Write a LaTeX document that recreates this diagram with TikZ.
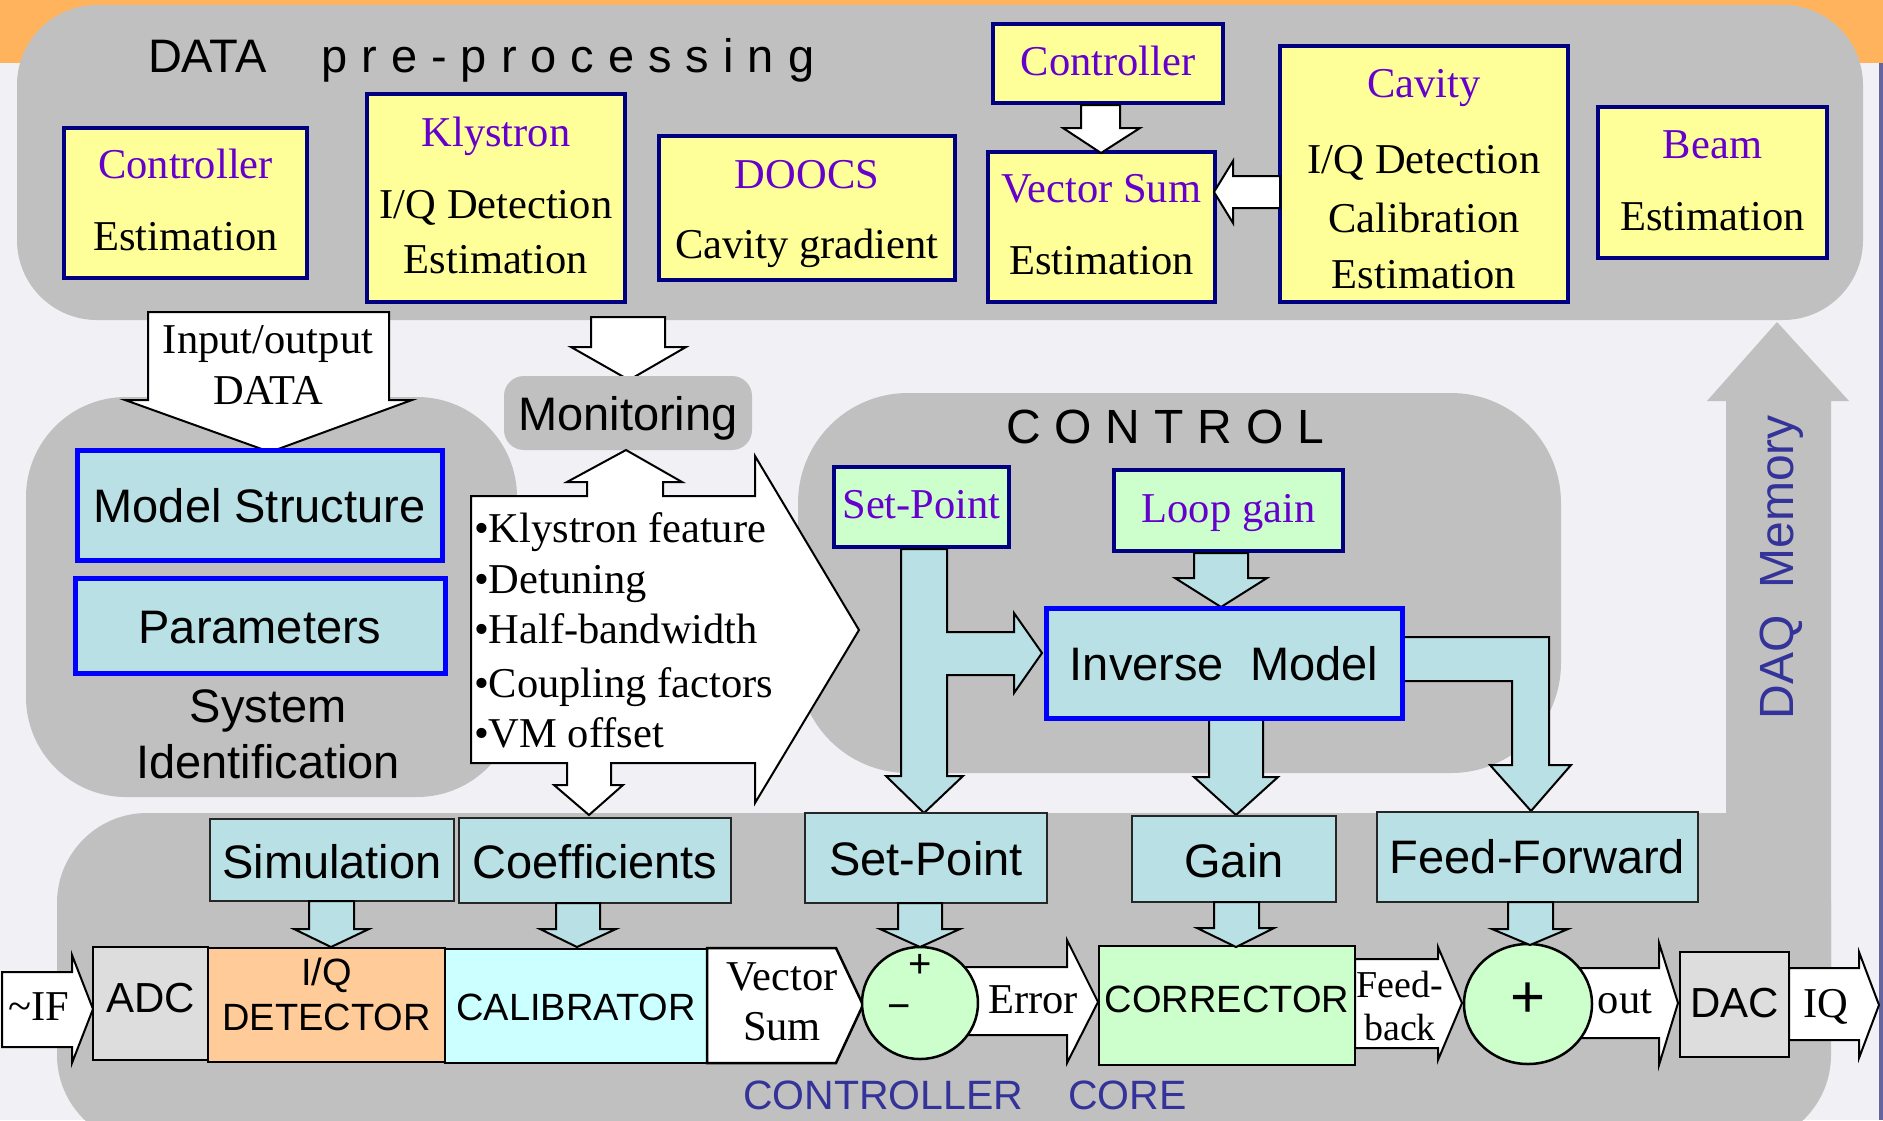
\documentclass[tikz,border=0pt]{standalone}
\usepackage{fontspec}
\usetikzlibrary{shapes.geometric}
\setmainfont{Liberation Serif}
\newfontfamily\fsans{Liberation Sans}
\newcommand\fsz[2]{\fontsize{#1}{#2}\selectfont}
\newcommand\ls{\kern14pt}
\definecolor{bgc}{RGB}{240,240,245}
\definecolor{orng}{RGB}{255,179,92}
\definecolor{grayreg}{RGB}{192,192,192}
\definecolor{yel}{RGB}{255,255,153}
\definecolor{navyb}{RGB}{0,0,128}
\definecolor{purp}{RGB}{102,0,204}
\definecolor{cyanl}{RGB}{185,224,228}
\definecolor{grn}{RGB}{204,255,204}
\definecolor{blueb}{RGB}{0,0,255}
\definecolor{daqblue}{RGB}{51,51,153}
\definecolor{adcg}{RGB}{221,221,221}
\definecolor{peach}{RGB}{255,204,153}
\definecolor{calc}{RGB}{204,255,255}
\definecolor{edgep}{RGB}{100,100,160}
\begin{document}
\begin{tikzpicture}[x=1pt,y=-1pt,
  every node/.style={inner sep=0pt, outer sep=0pt},
  yb/.style={draw=navyb, line width=4pt, fill=yel},
  gb/.style={draw=navyb, line width=3.5pt, fill=grn},
  bb/.style={draw=blueb, line width=5pt, fill=cyanl},
  cb/.style={draw=black!85, line width=2pt, fill=cyanl},
  pb/.style={draw=black, line width=2.5pt},
  warrow/.style={draw=black, line width=2pt, fill=white, line join=miter},
  carrow/.style={draw=black, line width=2pt, fill=cyanl, line join=miter},
  pt/.style={text=purp, font=\fsz{42.5}{50}, anchor=base},
  bt/.style={text=black, font=\fsz{42.5}{50}, anchor=base},
  st/.style={text=black, font=\fsans\fsz{47}{56}, anchor=base},
  sst/.style={text=black, font=\fsans\fsz{38}{46}, anchor=base},
  btl/.style={text=black, font=\fsz{42.5}{50}, anchor=base west},
]
\useasboundingbox (0,0) rectangle (1883,1120);
\clip (0,0) rectangle (1883,1120);
% background
\fill[bgc] (0,0) rectangle (1883,1120);
\fill[orng] (0,0) rectangle (1883,63);
\fill[edgep] (1879,63) rectangle (1883,1120);
% regions
\fill[grayreg, rounded corners=80pt] (17,5) rectangle (1863,320);
\fill[grayreg, rounded corners=100pt] (26,397) rectangle (517,797);
\fill[grayreg, rounded corners=110pt] (798,393) rectangle (1561,773);
\fill[grayreg, rounded corners=90pt] (57,813) rectangle (1831,1145);
\fill[grayreg] (1726,1000) -- (1726,401) -- (1707,401) -- (1777,322) -- (1849,401) -- (1831,401) -- (1831,1000) -- cycle;
\node[text=daqblue, font=\fsans\fsz{48}{58}, rotate=90, anchor=base] (daq) at (1793,567) {DAQ\ \ Memory};

% ===== DATA pre-processing =====
\node[anchor=base west, font=\fsans\fsz{47}{56}] (dpp) at (148,72) {DATA\kern55pt p\ls r\ls e\ls -\ls p\ls r\ls o\ls c\ls e\ls s\ls s\ls i\ls n\ls g};

\node[yb, minimum width=243pt, minimum height=150pt] (ctrlest) at (185.5,203) {};
\node[pt] at (185.5,178) {Controller};
\node[bt] at (185.5,250) {Estimation};

\node[yb, minimum width=258pt, minimum height=208pt] (klys) at (496,198) {};
\node[pt] at (496,146) {Klystron};
\node[bt] at (496,218) {I/Q Detection};
\node[bt] at (496,273) {Estimation};

\node[yb, minimum width=296pt, minimum height=144pt] (doocs) at (807,208) {};
\node[pt] at (807,188) {DOOCS};
\node[bt] at (807,258) {Cavity gradient};

\node[yb, minimum width=230pt, minimum height=79pt] (ctrltop) at (1108,63.5) {};
\node[pt] at (1108,75) {Controller};

\node[yb, minimum width=227pt, minimum height=150pt] (vsest) at (1101.5,227) {};
\node[pt] at (1101.5,202) {Vector Sum};
\node[bt] at (1101.5,274) {Estimation};

\node[yb, minimum width=288pt, minimum height=256pt] (cavity) at (1424,174) {};
\node[pt] at (1424,97) {Cavity};
\node[bt] at (1424,173) {I/Q Detection};
\node[bt] at (1424,232) {Calibration};
\node[bt] at (1424,288) {Estimation};

\node[yb, minimum width=229pt, minimum height=151pt] (beam) at (1712.5,182.5) {};
\node[pt] at (1712.5,158) {Beam};
\node[bt] at (1712.5,230) {Estimation};

% arrows in top region
\draw[warrow] (1081,105) -- (1120,105) -- (1120,128) -- (1140,128) -- (1101,153) -- (1063,128) -- (1081,128) -- cycle;
\draw[warrow] (1280,176) -- (1233,176) -- (1233,161) -- (1214,192) -- (1233,223) -- (1233,208) -- (1280,208) -- cycle;

% ===== System identification =====
\draw[warrow] (148,312) -- (389,312) -- (389,400) -- (412,400) -- (270,452) -- (125,400) -- (148,400) -- cycle;
\node[bt] at (268,353) {Input/output};
\node[bt] at (268,404) {DATA};

\node[bb, minimum width=365pt, minimum height=110pt] (modelstr) at (259.5,505) {};
\node[st] at (259.5,522) {Model Structure};
\node[bb, minimum width=370pt, minimum height=95pt] (params) at (260,625.5) {};
\node[st] at (260,643) {Parameters};
\node[st] at (268,722) {System};
\node[st] at (268,778) {Identification};

% ===== Monitoring =====
\draw[warrow] (591,317) -- (665,317) -- (665,347) -- (686,347) -- (629,380) -- (571,347) -- (591,347) -- cycle;
\node[fill=grayreg, rounded corners=20pt, minimum width=248pt, minimum height=74pt] (monit) at (628,413) {};
\node[st] at (628,430) {Monitoring};

\draw[warrow] (471,496) -- (587,496) -- (587,482) -- (567,482) -- (626,450) -- (682,482) -- (663,482) -- (663,496) -- (755,496) -- (755,456) -- (859,630) -- (755,803) -- (755,763) -- (611,763) -- (611,785) -- (623,785) -- (589,815) -- (554,785) -- (567,785) -- (567,763) -- (471,763) -- cycle;
\node[btl] at (474,542) {\textbullet Klystron feature};
\node[btl] at (474,593) {\textbullet Detuning};
\node[btl] at (474,643) {\textbullet Half-bandwidth};
\node[btl] at (474,697) {\textbullet Coupling factors};
\node[btl] at (474,747) {\textbullet VM offset};

% ===== CONTROL =====
\node[anchor=base west, font=\fsans\fsz{48}{56}] (ctl) at (1006,443) {C\ls O\ls N\ls T\ls R\ls O\ls L};
\node[gb, minimum width=175pt, minimum height=80pt] (sptop) at (921.5,507) {};
\node[pt] at (921.5,518) {Set-Point};
\node[gb, minimum width=229pt, minimum height=81pt] (loopgain) at (1228.5,510.5) {};
\node[pt] at (1228.5,522) {Loop gain};

\draw[carrow] (1194,553) -- (1248,553) -- (1248,578) -- (1267,578) -- (1221,607) -- (1175,578) -- (1194,578) -- cycle;
\draw[carrow] (901,549) -- (947,549) -- (947,632) -- (1014,632) -- (1014,613) -- (1042,653) -- (1014,693) -- (1014,675) -- (947,675) -- (947,776) -- (963,776) -- (924,813) -- (886,776) -- (901,776) -- cycle;
\draw[carrow] (1209,716) -- (1263,716) -- (1263,777) -- (1278,777) -- (1236,815) -- (1194,777) -- (1209,777) -- cycle;
\draw[carrow] (1400,637) -- (1549,637) -- (1549,765) -- (1571,765) -- (1531,811) -- (1490,765) -- (1512,765) -- (1512,681) -- (1400,681) -- cycle;

\node[bb, minimum width=356pt, minimum height=110pt] (invmodel) at (1224,663) {};
\node[st] at (1224,680) {Inverse\ \ Model};

% ===== Controller core row =====
\node[cb, minimum width=244pt, minimum height=82pt] (sim) at (332,860) {};
\node[st] at (332,878) {Simulation};
\node[cb, minimum width=272pt, minimum height=85pt] (coef) at (595,860.5) {};
\node[st] at (595,878) {Coefficients};
\node[cb, minimum width=242pt, minimum height=90pt] (spbot) at (926,858) {};
\node[st] at (926,875) {Set-Point};
\node[cb, minimum width=204pt, minimum height=86pt] (gain) at (1234,859) {};
\node[st] at (1234,877) {Gain};
\node[cb, minimum width=321pt, minimum height=90pt] (ff) at (1537.5,857) {};
\node[st] at (1537.5,873) {Feed-Forward};

% pipeline
\draw[warrow] (2,972) -- (72,972) -- (72,955) -- (93,1009) -- (72,1063) -- (72,1047) -- (2,1047) -- cycle;
\node[bt] at (39,1020) {\textasciitilde IF};
\node[pb, fill=adcg, minimum width=115pt, minimum height=113pt] (adc) at (150.5,1003.5) {};
\node[st, font=\fsans\fsz{42}{50}] at (150.5,1012) {ADC};
\node[pb, fill=peach, minimum width=237pt, minimum height=114pt] (iqdet) at (326.5,1005) {};
\node[sst] at (326.5,985) {I/Q};
\node[sst] at (326.5,1030) {DETECTOR};
\node[pb, fill=calc, minimum width=262pt, minimum height=114pt] (calib) at (576,1006) {};
\node[sst] at (576,1020) {CALIBRATOR};
\draw[warrow, line width=2.5pt] (707,948) -- (836,948) -- (863,1005) -- (836,1063) -- (707,1063) -- cycle;
\node[bt] at (782,990) {Vector};
\node[bt] at (782,1040) {Sum};

\draw[warrow] (960,967) -- (1067,967) -- (1067,940) -- (1098,1002) -- (1067,1063) -- (1067,1035) -- (960,1035) -- cycle;
\node[bt] at (1033,1013) {Error};
\node[pb, fill=grn, minimum width=256pt, minimum height=119pt] (corr) at (1227,1005.5) {};
\node[sst] at (1227,1012) {CORRECTOR};
\draw[warrow] (1355,959) -- (1438,959) -- (1438,947) -- (1462,1003) -- (1438,1060) -- (1438,1048) -- (1355,1048) -- cycle;
\node[bt, font=\fsz{38}{46}] at (1400,997) {Feed-};
\node[bt, font=\fsz{38}{46}] at (1400,1040) {back};
\draw[warrow] (1580,968) -- (1659,968) -- (1659,943) -- (1678,1003) -- (1659,1065) -- (1659,1038) -- (1580,1038) -- cycle;
\node[bt] at (1625,1013) {out};
\draw[warrow] (1789,968) -- (1859,968) -- (1859,952) -- (1879,1005) -- (1859,1058) -- (1859,1040) -- (1789,1040) -- cycle;
\node[bt] at (1826,1017) {IQ};
\node[pb, fill=adcg, minimum width=109pt, minimum height=105pt] (dac) at (1734.5,1004.5) {};
\node[st, font=\fsans\fsz{42}{50}] at (1734.5,1017) {DAC};

\node[draw=black, line width=2.5pt, fill=grn, ellipse, minimum width=116pt, minimum height=112pt] (sum1) at (920,1003) {};
\node[st, font=\fsans\fsz{40}{48}, anchor=center] at (920,966) {+};
\node[st, font=\fsans\fsz{40}{48}, anchor=center] at (899,1012) {−};
\node[draw=black, line width=2.5pt, fill=grn, ellipse, minimum width=128pt, minimum height=120pt] (sum2) at (1528,1004) {};
\node[st, font=\fsans\fsz{60}{70}, anchor=center] at (1528,1000) {+};

% down arrows into pipeline
\draw[carrow] (309,901) -- (354,901) -- (354,929) -- (369,929) -- (331,947) -- (294,929) -- (309,929) -- cycle;
\draw[carrow] (556,903) -- (600,903) -- (600,929) -- (616,929) -- (577,947) -- (540,929) -- (556,929) -- cycle;
\draw[carrow] (898,903) -- (942,903) -- (942,929) -- (960,929) -- (920,947) -- (880,929) -- (898,929) -- cycle;
\draw[carrow] (1214,902) -- (1259,902) -- (1259,928) -- (1274,928) -- (1236,947) -- (1197,928) -- (1214,928) -- cycle;
\draw[carrow] (1508,902) -- (1553,902) -- (1553,929) -- (1568,929) -- (1530,945) -- (1492,929) -- (1508,929) -- cycle;

\node[anchor=base west, text=daqblue, font=\fsans\fsz{41}{50}] (core) at (743,1109) {CONTROLLER\kern45pt CORE};
\end{tikzpicture}
\end{document}
